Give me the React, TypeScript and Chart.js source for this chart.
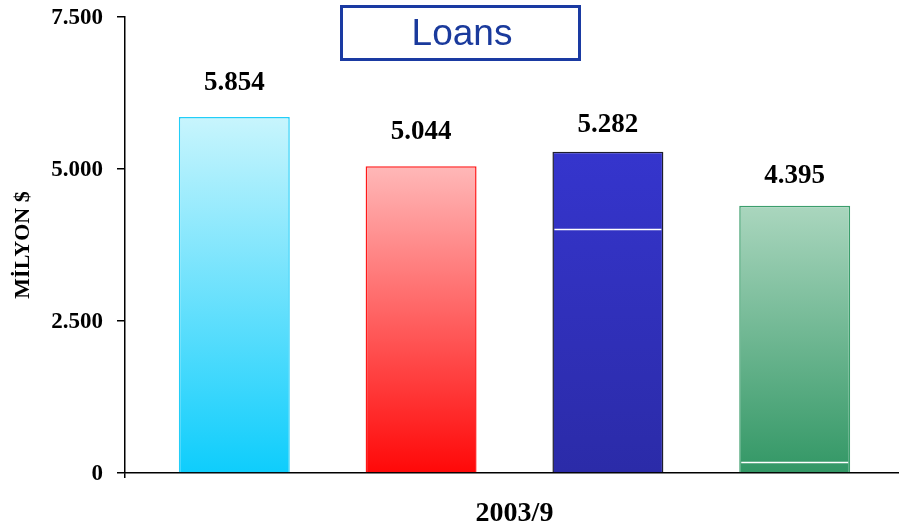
import React, { useEffect, useRef } from "react";
import { Chart, registerables } from "chart.js";

Chart.register(...registerables);

const categories = ["2003/9"];
const seriesNames = ["Banka 1", "Banka 2", "Banka 3", "Banka 4"];
const loanValues = [5854, 5044, 5282, 4395];
const whiteLineValues: (number | null)[] = [null, null, 4010, 180];
const yTicks = [0, 2500, 5000, 7500];

const gradientTop = ["#c8f5fd", "#ffb8b8", "#3535cd", "#aad6be"];
const gradientBottom = ["#0ecdfc", "#ff0808", "#2b2ba8", "#329765"];
const borderColors = ["#22cef8", "#ff1818", "#1e1e2e", "#3c9e6c"];
const labelGaps = [34, 34, 27, 30];

const SERIF = "'Liberation Serif', 'Times New Roman', serif";

const fmt = (v: number) => {
  const s = Math.round(v).toString();
  return s.replace(/\B(?=(\d{3})+(?!\d))/g, ".");
};

const overlayPlugin = {
  id: "overlay",
  afterDatasetsDraw(chart: any) {
    const ctx = chart.ctx;
    const y = chart.scales.y;
    ctx.save();
    chart.data.datasets.forEach((ds: any, i: number) => {
      const meta = chart.getDatasetMeta(i);
      const el: any = meta.data[0];
      if (!el) return;
      const wl = whiteLineValues[i];
      if (wl !== null && wl !== undefined) {
        const py = Math.round(y.getPixelForValue(wl)) + 0.5;
        ctx.strokeStyle = "#ffffff";
        ctx.lineWidth = 1.5;
        ctx.beginPath();
        ctx.moveTo(el.x - el.width / 2 + 2, py);
        ctx.lineTo(el.x + el.width / 2 - 2, py);
        ctx.stroke();
      }
      ctx.fillStyle = "#000000";
      ctx.font = `bold 27px ${SERIF}`;
      ctx.textAlign = "center";
      ctx.textBaseline = "middle";
      ctx.fillText(fmt(ds.data[0]), el.x, el.y - labelGaps[i]);
    });
    // Title box
    ctx.strokeStyle = "#1a3aa2";
    ctx.lineWidth = 3;
    ctx.strokeRect(341.5, 6.5, 238, 53);
    ctx.fillStyle = "#1a3a9c";
    ctx.font = "37px 'Liberation Sans', Arial, sans-serif";
    ctx.textAlign = "center";
    ctx.textBaseline = "alphabetic";
    ctx.fillText("Loans", 462, 45);
    ctx.restore();
  },
};

export default function App() {
  const ref = useRef<HTMLCanvasElement | null>(null);
  useEffect(() => {
    if (!ref.current) return;
    const datasets = loanValues.map((v, i) => ({
      label: seriesNames[i],
      data: [v],
      backgroundColor: (c: any) => {
        const chart = c.chart;
        const ys = chart.scales && chart.scales.y;
        if (!ys || !chart.chartArea) return gradientBottom[i];
        const top = ys.getPixelForValue(v);
        const bottom = ys.getPixelForValue(0);
        const g = chart.ctx.createLinearGradient(0, top, 0, bottom);
        g.addColorStop(0, gradientTop[i]);
        g.addColorStop(1, gradientBottom[i]);
        return g;
      },
      borderColor: borderColors[i],
      borderWidth: 1.5,
      borderSkipped: "bottom" as const,
      categoryPercentage: 0.9592,
      barPercentage: 0.594,
    }));
    const chart = new Chart(ref.current, {
      type: "bar",
      data: { labels: categories, datasets },
      options: {
        animation: false,
        responsive: false,
        devicePixelRatio: 1,
        layout: { padding: { top: 17, right: 1, left: 0, bottom: 0 } },
        plugins: { legend: { display: false }, tooltip: { enabled: false } },
        scales: {
          x: {
            grid: {
              display: true,
              drawOnChartArea: false,
              drawTicks: true,
              tickLength: 5,
              color: "#000000",
              lineWidth: 1.5,
              offset: true,
            },
            border: { display: true, color: "#000000", width: 1.5 },
            ticks: {
              color: "#000000",
              font: { family: SERIF, size: 28, weight: "bold" },
              padding: 19,
            },
            afterFit: (s: any) => {
              s.height = 56;
              s.paddingLeft = 0;
              s.paddingRight = 0;
            },
          },
          y: {
            min: 0,
            max: 7500,
            afterBuildTicks: (s: any) => {
              s.ticks = yTicks.map((v) => ({ value: v }));
            },
            grid: {
              display: true,
              drawOnChartArea: false,
              drawTicks: true,
              tickLength: 8,
              color: "#000000",
              lineWidth: 1.5,
            },
            border: { display: true, color: "#000000", width: 1.5 },
            ticks: {
              color: "#000000",
              font: { family: SERIF, size: 23, weight: "bold" },
              padding: 14,
              labelOffset: 1,
              callback: (v: any) => fmt(Number(v)),
            },
            title: {
              display: true,
              text: "MİLYON $",
              color: "#000000",
              font: { family: SERIF, size: 22, weight: "bold" },
              padding: { top: 10, bottom: 0 },
            },
            afterFit: (s: any) => {
              s.width = 125;
              s.paddingTop = 0;
              s.paddingBottom = 0;
            },
          },
        },
      },
      plugins: [overlayPlugin],
    });
    return () => chart.destroy();
  }, []);
  return (
    <div
      style={{
        position: "fixed",
        left: 0,
        top: 0,
        width: 899,
        height: 529,
        overflow: "hidden",
        background: "#ffffff",
      }}
    >
      <canvas ref={ref} width={905} height={529} style={{ display: "block" }} />
    </div>
  );
}
